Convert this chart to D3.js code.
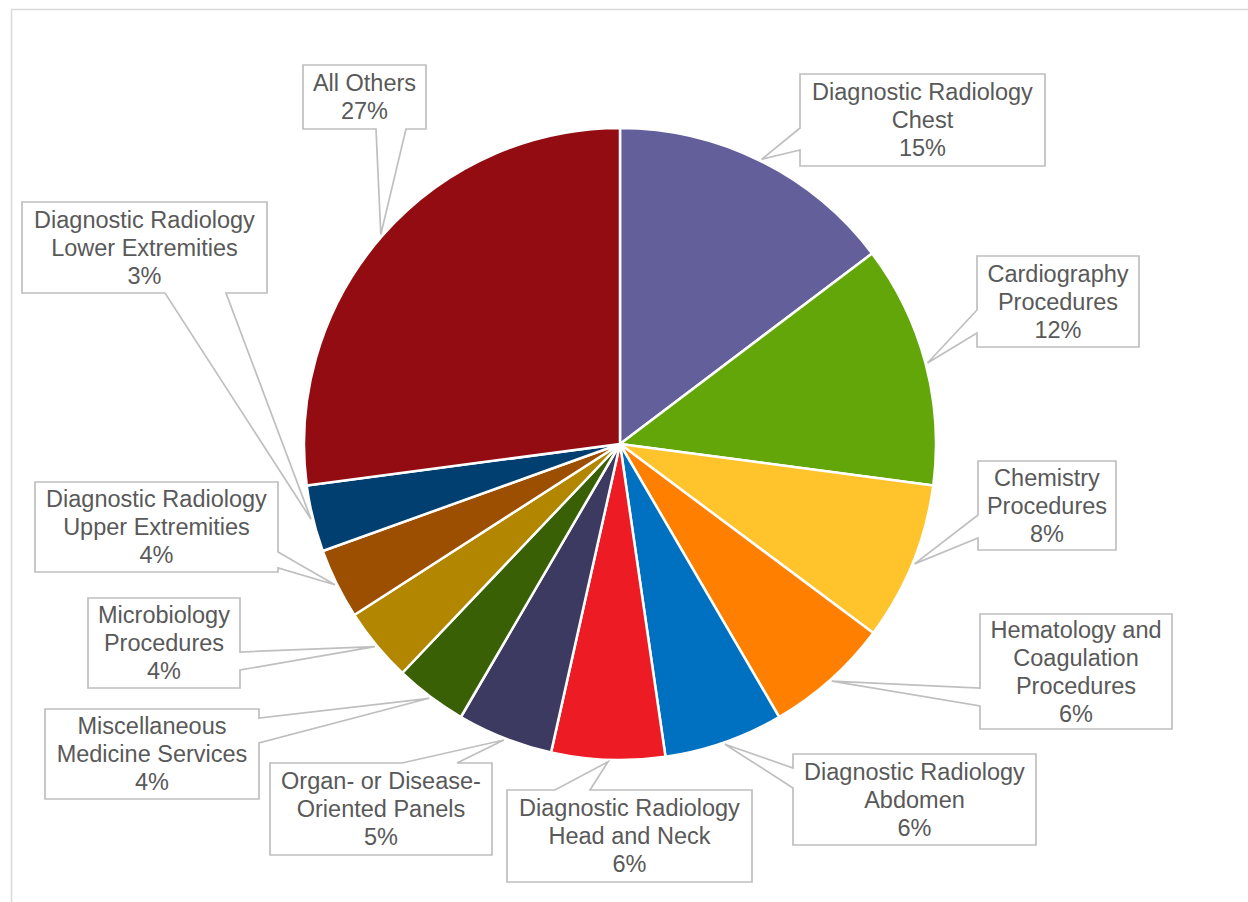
<!DOCTYPE html>
<html>
<head>
<meta charset="utf-8">
<script src="https://cdn.jsdelivr.net/npm/d3@7"></script>
<style>
  html, body { margin: 0; padding: 0; background: #ffffff; }
  svg { display: block; }
  text { font-family: "Liberation Sans", Arial, sans-serif; }
</style>
</head>
<body>
<svg id="chart" width="1248" height="902"></svg>
<script>
// ---- data ----
const categories = [
  ["Diagnostic Radiology", "Chest"],
  ["Cardiography", "Procedures"],
  ["Chemistry", "Procedures"],
  ["Hematology and", "Coagulation", "Procedures"],
  ["Diagnostic Radiology", "Abdomen"],
  ["Diagnostic Radiology", "Head and Neck"],
  ["Organ- or Disease-", "Oriented Panels"],
  ["Miscellaneous", "Medicine Services"],
  ["Microbiology", "Procedures"],
  ["Diagnostic Radiology", "Upper Extremities"],
  ["Diagnostic Radiology", "Lower Extremities"],
  ["All Others"]
];
const values = [14.7, 12.4, 8.1, 6.4, 6.1, 5.8, 4.9, 3.7, 3.8, 3.6, 3.4, 27.1];
const colors = ["#635f9b", "#62a60a", "#ffc32b", "#ff8000", "#0070c0", "#ed1c24",
                "#3c3a60", "#3a6006", "#b38600", "#9c4f00", "#003f70", "#930c12"];

// ---- label box layout (x, y, w, h, side of pointer, pointer start/end along side) ----
const labelBoxes = [
  {x: 800, y: 74,  w: 245, h: 92,  side: "left",   a: 128, b: 150},
  {x: 977, y: 256, w: 162, h: 91,  side: "left",   a: 310, b: 333},
  {x: 978, y: 461, w: 138, h: 89,  side: "left",   a: 515, b: 538},
  {x: 980, y: 614, w: 192, h: 115, side: "left",   a: 688, b: 706},
  {x: 793, y: 754, w: 243, h: 91,  side: "left",   a: 768, b: 788},
  {x: 507, y: 790, w: 245, h: 92,  side: "top",    a: 555, b: 590},
  {x: 270, y: 763, w: 222, h: 92,  side: "top",    a: 402, b: 457},
  {x: 45,  y: 709, w: 214, h: 90,  side: "right",  a: 718, b: 743},
  {x: 88,  y: 598, w: 152, h: 90,  side: "right",  a: 652, b: 670},
  {x: 35,  y: 482, w: 243, h: 90,  side: "right",  a: 552, b: 568},
  {x: 22,  y: 202, w: 245, h: 91,  side: "bottom", a: 165, b: 226},
  {x: 303, y: 65,  w: 123, h: 64,  side: "bottom", a: 376, b: 406}
];

const svg = d3.select("#chart");
const cx = 620, cy = 444, R = 316;

// chart area border
svg.append("rect")
  .attr("x", 11.5).attr("y", 9.5)
  .attr("width", 1400).attr("height", 1000)
  .attr("fill", "#ffffff")
  .attr("stroke", "#d9d9d9").attr("stroke-width", 1.5);

const total = d3.sum(values);
const pie = d3.pie().sort(null).value(d => d)(values);
const arc = d3.arc().innerRadius(0).outerRadius(R);
const anchorArc = d3.arc().innerRadius(R + 2).outerRadius(R + 2);

const g = svg.append("g").attr("transform", `translate(${cx},${cy})`);
g.selectAll("path.slice")
  .data(pie)
  .join("path")
  .attr("class", "slice")
  .attr("d", arc)
  .attr("fill", (d, i) => colors[i])
  .attr("stroke", "#ffffff")
  .attr("stroke-width", 2.5)
  .attr("stroke-linejoin", "round");

function calloutPath(bx, ax, ay) {
  const {x, y, w, h, side, a, b} = bx;
  const x2 = x + w, y2 = y + h;
  const p = [];
  p.push([x, y]);
  if (side === "top") { p.push([a, y], [ax, ay], [b, y]); }
  p.push([x2, y]);
  if (side === "right") { p.push([x2, a], [ax, ay], [x2, b]); }
  p.push([x2, y2]);
  if (side === "bottom") { p.push([b, y2], [ax, ay], [a, y2]); }
  p.push([x, y2]);
  if (side === "left") { p.push([x, b], [ax, ay], [x, a]); }
  return "M" + p.map(q => q.join(",")).join("L") + "Z";
}

const labels = svg.append("g");
pie.forEach((d, i) => {
  const c = anchorArc.centroid(d);
  const ax = cx + c[0], ay = cy + c[1];
  const bx = labelBoxes[i];
  labels.append("path")
    .attr("d", calloutPath(bx, ax, ay))
    .attr("fill", "#ffffff")
    .attr("stroke", "#bfbfbf")
    .attr("stroke-width", 1.7)
    .attr("stroke-linejoin", "miter");
  const lines = categories[i].concat([Math.round(values[i] / total * 100) + "%"]);
  const lh = 28;
  const midY = bx.y + bx.h / 2;
  const t = labels.append("text")
    .attr("text-anchor", "middle")
    .attr("font-size", 23.5)
    .attr("fill", "#595959");
  lines.forEach((ln, k) => {
    t.append("tspan")
      .attr("x", bx.x + bx.w / 2)
      .attr("y", midY + (k - (lines.length - 1) / 2) * lh)
      .attr("dy", "0.35em")
      .text(ln);
  });
});
</script>
</body>
</html>
